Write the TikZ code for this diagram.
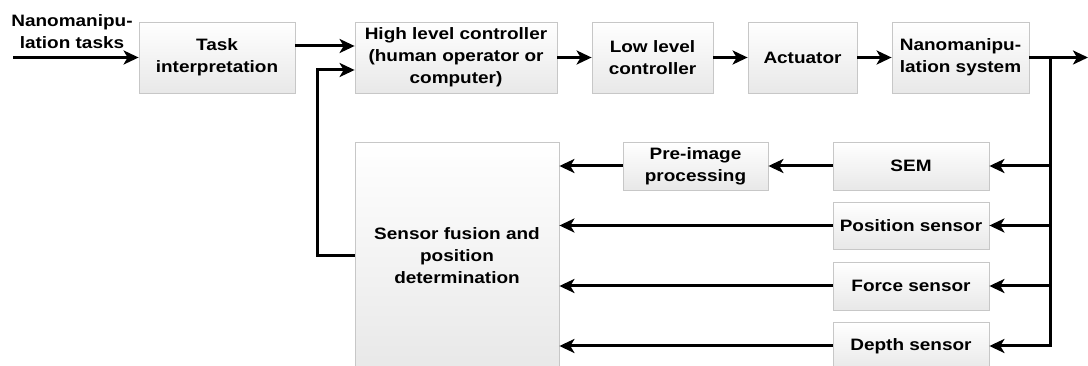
\documentclass[tikz,border=0pt]{standalone}
\usepackage{fontspec}
\setmainfont{Liberation Sans}[FakeStretch=1.15]
\usetikzlibrary{arrows.meta,shadows}
\begin{document}
\begin{tikzpicture}[x=1pt,y=-1pt,
  blk/.style={draw=black!22, line width=0.8pt, top color=white, bottom color=black!9,
    drop shadow={shadow xshift=1pt, shadow yshift=-1pt, fill=black!15},
    font=\fontsize{16.5}{22}\selectfont\bfseries, align=center, inner sep=2pt},
  arr/.style={line width=3pt, -{Stealth[length=15pt,width=14pt,inset=4pt]}},
  lbl/.style={font=\fontsize{16.5}{22}\selectfont\bfseries, align=center, inner sep=0pt}]
\clip (0,0) rectangle (1088,366);
\fill[white] (0,0) rectangle (1088,366);
% top row
\node[blk, minimum width=156pt, minimum height=71pt] (task) at (217,57.5) {Task\\interpretation};
\node[blk, minimum width=202pt, minimum height=71pt] (hlc) at (456,57.5) {High level controller\\(human operator or\\computer)};
\node[blk, minimum width=121pt, minimum height=71pt] (llc) at (652.5,57.5) {Low level\\controller};
\node[blk, minimum width=109pt, minimum height=71pt] (act) at (802.5,57.5) {Actuator};
\node[blk, minimum width=137pt, minimum height=71pt] (nano) at (960.5,57.5) {Nanomanipu-\\lation system};
% lower part
\node[blk, minimum width=204pt, minimum height=228pt] (fus) at (457,256) {Sensor fusion and\\position\\determination};
\node[blk, minimum width=145pt, minimum height=48pt] (pre) at (695.5,166) {Pre-image\\processing};
\node[blk, minimum width=156pt, minimum height=48pt] (sem) at (911,166) {SEM};
\node[blk, minimum width=156pt, minimum height=47pt] (pos) at (911,225.5) {Position sensor};
\node[blk, minimum width=156pt, minimum height=48pt] (frc) at (911,286) {Force sensor};
\node[blk, minimum width=156pt, minimum height=48pt] (dep) at (911,346) {Depth sensor};
% input
\node[lbl] (intxt) at (72,32) {Nanomanipu-\\lation tasks};
\coordinate (in) at (13,57.5);
\draw[arr] (in) -- (task.west);
\draw[arr] ([yshift=11.5pt]task.east) -- ([yshift=11.5pt]hlc.west);
\draw[arr] (hlc.east) -- (llc.west);
\draw[arr] (llc.east) -- (act.west);
\draw[arr] (act.east) -- (nano.west);
\coordinate (out) at (1088,57.5);
\coordinate (br) at (1050,57.5);
\draw[arr] (nano.east) -- (out);
\draw[arr] (br) |- (dep.east);
\draw[arr] (br |- sem.east) -- (sem.east);
\draw[arr] (br |- pos.east) -- (pos.east);
\draw[arr] (br |- frc.east) -- (frc.east);
\draw[arr] (sem.west) -- (pre.east);
\draw[arr] (pre.west) -- (fus.east |- pre.west);
\draw[arr] (pos.west) -- (fus.east |- pos.west);
\draw[arr] (frc.west) -- (fus.east |- frc.west);
\draw[arr] (dep.west) -- (fus.east |- dep.west);
% feedback
\draw[arr] (fus.west) -- ++(-37,0) |- ([yshift=-12.5pt]hlc.west);
\end{tikzpicture}
\end{document}
